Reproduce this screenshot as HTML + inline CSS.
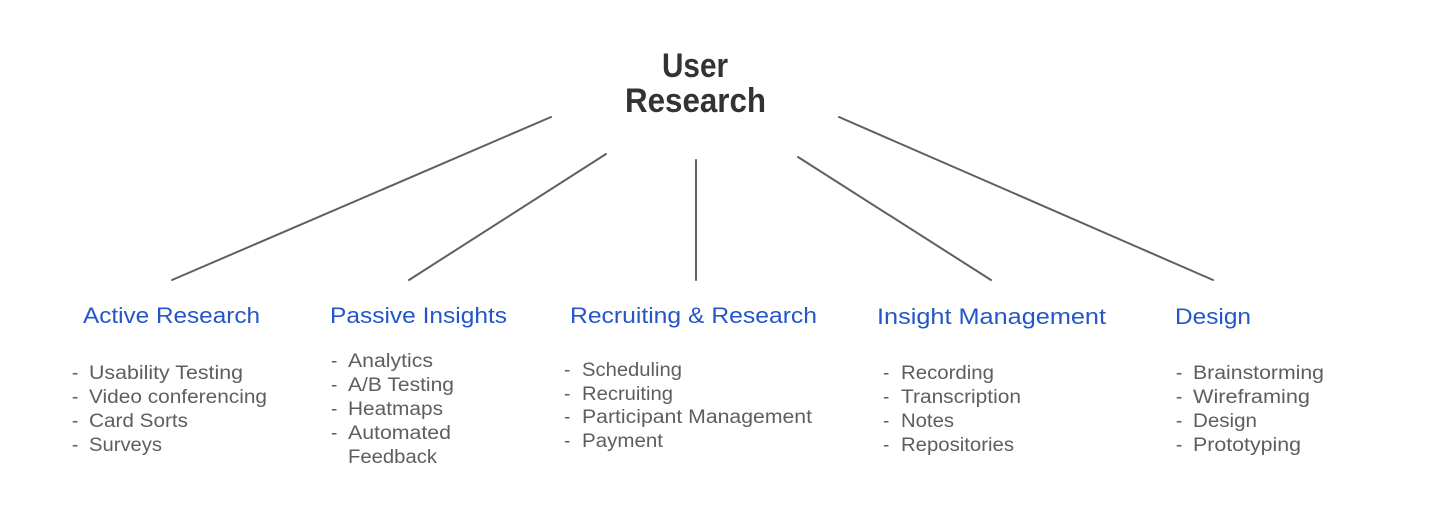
<!DOCTYPE html>
<html>
<head>
<meta charset="utf-8">
<style>
  html, body { margin: 0; padding: 0; background: #ffffff; }
  body { width: 1432px; height: 520px; overflow: hidden; }
  svg { display: block; }
  .t { font-family: "Liberation Sans", sans-serif; fill: #333333; font-size: 34px; font-weight: bold; }
  .h { font-family: "Liberation Sans", sans-serif; fill: #2456c8; font-size: 22px; }
  .i { font-family: "Liberation Sans", sans-serif; fill: #5e5e5e; font-size: 19px; }
</style>
</head>
<body>
<svg width="1432" height="520" viewBox="0 0 1432 520" xmlns="http://www.w3.org/2000/svg">
  <rect width="1432" height="520" fill="#ffffff"/>
  <!-- Title -->
  <text class="t" x="662" y="77" textLength="66" lengthAdjust="spacingAndGlyphs">User</text>
  <text class="t" x="625" y="112" textLength="141" lengthAdjust="spacingAndGlyphs">Research</text>

  <!-- Connectors -->
  <g stroke="#606060" stroke-width="2" stroke-linecap="round" fill="none">
    <line x1="551" y1="117" x2="172" y2="280"/>
    <line x1="606" y1="154" x2="409" y2="280"/>
    <line x1="696" y1="160" x2="696" y2="280"/>
    <line x1="798" y1="157" x2="991" y2="280"/>
    <line x1="839" y1="117" x2="1213" y2="280"/>
  </g>

  <!-- Headers -->
  <text class="h" x="83" y="323" textLength="177" lengthAdjust="spacingAndGlyphs">Active Research</text>
  <text class="h" x="330" y="323" textLength="177" lengthAdjust="spacingAndGlyphs">Passive Insights</text>
  <text class="h" x="570" y="323" textLength="247" lengthAdjust="spacingAndGlyphs">Recruiting &amp; Research</text>
  <text class="h" x="877" y="324" textLength="229" lengthAdjust="spacingAndGlyphs">Insight Management</text>
  <text class="h" x="1175" y="324" textLength="76" lengthAdjust="spacingAndGlyphs">Design</text>

  <!-- Active Research items -->
  <g class="i">
    <text x="72" y="379">-</text><text x="89" y="379" textLength="154" lengthAdjust="spacingAndGlyphs">Usability Testing</text>
    <text x="72" y="403">-</text><text x="89" y="403" textLength="178" lengthAdjust="spacingAndGlyphs">Video conferencing</text>
    <text x="72" y="427">-</text><text x="89" y="427" textLength="99" lengthAdjust="spacingAndGlyphs">Card Sorts</text>
    <text x="72" y="451">-</text><text x="89" y="451" textLength="73" lengthAdjust="spacingAndGlyphs">Surveys</text>
  </g>

  <!-- Passive Insights items -->
  <g class="i">
    <text x="331" y="367">-</text><text x="348" y="367" textLength="85" lengthAdjust="spacingAndGlyphs">Analytics</text>
    <text x="331" y="391">-</text><text x="348" y="391" textLength="106" lengthAdjust="spacingAndGlyphs">A/B Testing</text>
    <text x="331" y="415">-</text><text x="348" y="415" textLength="95" lengthAdjust="spacingAndGlyphs">Heatmaps</text>
    <text x="331" y="439">-</text><text x="348" y="439" textLength="103" lengthAdjust="spacingAndGlyphs">Automated</text>
    <text x="348" y="463" textLength="89" lengthAdjust="spacingAndGlyphs">Feedback</text>
  </g>

  <!-- Recruiting & Research items -->
  <g class="i">
    <text x="564" y="376">-</text><text x="582" y="376" textLength="100" lengthAdjust="spacingAndGlyphs">Scheduling</text>
    <text x="564" y="400">-</text><text x="582" y="400" textLength="91" lengthAdjust="spacingAndGlyphs">Recruiting</text>
    <text x="564" y="423">-</text><text x="582" y="423" textLength="230" lengthAdjust="spacingAndGlyphs">Participant Management</text>
    <text x="564" y="447">-</text><text x="582" y="447" textLength="81" lengthAdjust="spacingAndGlyphs">Payment</text>
  </g>

  <!-- Insight Management items -->
  <g class="i">
    <text x="883" y="379">-</text><text x="901" y="379" textLength="93" lengthAdjust="spacingAndGlyphs">Recording</text>
    <text x="883" y="403">-</text><text x="901" y="403" textLength="120" lengthAdjust="spacingAndGlyphs">Transcription</text>
    <text x="883" y="427">-</text><text x="901" y="427" textLength="53" lengthAdjust="spacingAndGlyphs">Notes</text>
    <text x="883" y="451">-</text><text x="901" y="451" textLength="113" lengthAdjust="spacingAndGlyphs">Repositories</text>
  </g>

  <!-- Design items -->
  <g class="i">
    <text x="1176" y="379">-</text><text x="1193" y="379" textLength="131" lengthAdjust="spacingAndGlyphs">Brainstorming</text>
    <text x="1176" y="403">-</text><text x="1193" y="403" textLength="117" lengthAdjust="spacingAndGlyphs">Wireframing</text>
    <text x="1176" y="427">-</text><text x="1193" y="427" textLength="64" lengthAdjust="spacingAndGlyphs">Design</text>
    <text x="1176" y="451">-</text><text x="1193" y="451" textLength="108" lengthAdjust="spacingAndGlyphs">Prototyping</text>
  </g>
</svg>
</body>
</html>
